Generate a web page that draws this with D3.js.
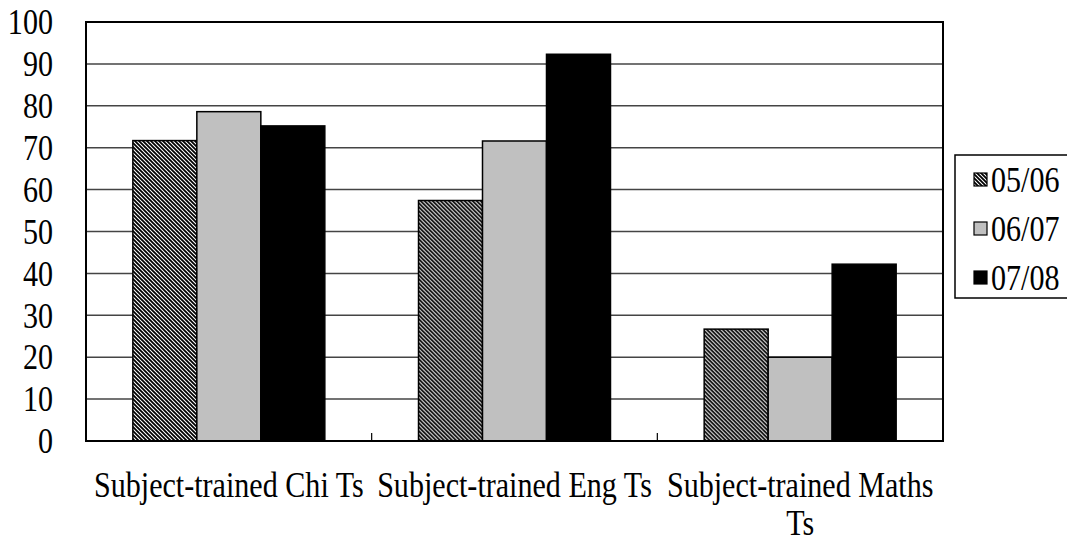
<!DOCTYPE html>
<html>
<head>
<meta charset="utf-8">
<script src="https://cdn.jsdelivr.net/npm/d3@7/dist/d3.min.js"></script>
<style>
  html, body { margin: 0; padding: 0; background: #fff; }
  svg { display: block; }
</style>
</head>
<body>
<svg id="chart" width="1067" height="545"></svg>
<script>
// ---- data ----
const categories = ["Subject-trained Chi Ts", "Subject-trained Eng Ts", "Subject-trained Maths Ts"];
const seriesNames = ["05/06", "06/07", "07/08"];
const values0506 = [71.7, 57.4, 26.7];
const values0607 = [78.6, 71.6, 20.0];
const values0708 = [75.2, 92.3, 42.2];
const yTicks = [0, 10, 20, 30, 40, 50, 60, 70, 80, 90, 100];

const seriesValues = [values0506, values0607, values0708];
const fills = ["url(#hatch)", "#c0c0c0", "#000000"];

const FONT = '"Liberation Serif", "Times New Roman", serif';
const FS = 35;
const cv = document.createElement("canvas").getContext("2d");
cv.font = `${FS}px "Liberation Serif"`;
const SX = 0.86;

const svg = d3.select("#chart");

const plot = { left: 86, right: 943, top: 22, bottom: 441 };

const defs = svg.append("defs");
const pat = defs.append("pattern")
  .attr("id", "hatch").attr("patternUnits", "userSpaceOnUse")
  .attr("width", 4).attr("height", 4);
pat.append("rect").attr("width", 4).attr("height", 4).attr("fill", "#fff");
pat.append("path")
  .attr("d", "M-1,-1 L5,5 M-1,3 L1,5 M3,-1 L5,1")
  .attr("stroke", "#000").attr("stroke-width", 1.8);

const x0 = d3.scaleBand().domain(categories).range([plot.left, plot.right]).paddingInner(0).paddingOuter(0);
const x1 = d3.scaleBand().domain(seriesNames).range([0, x0.bandwidth()]).paddingInner(0).paddingOuter(0.732);
const y = d3.scaleLinear().domain([0, 100]).range([plot.bottom, plot.top]);

// gridlines
svg.append("g").selectAll("line").data(yTicks.filter(d => d > 0 && d < 100)).join("line")
  .attr("x1", plot.left).attr("x2", plot.right)
  .attr("y1", d => y(d)).attr("y2", d => y(d))
  .attr("stroke", "#444").attr("stroke-width", 1.5);

// bars
categories.forEach((cat, ci) => {
  const g = svg.append("g").attr("transform", `translate(${x0(cat)},0)`);
  seriesNames.forEach((s, si) => {
    const v = seriesValues[si][ci];
    g.append("rect")
      .attr("x", x1(s)).attr("width", x1.bandwidth())
      .attr("y", y(v)).attr("height", y(0) - y(v))
      .attr("fill", fills[si])
      .attr("stroke", "#000").attr("stroke-width", 1.5);
  });
});

// frame
svg.append("rect")
  .attr("x", plot.left).attr("y", plot.top)
  .attr("width", plot.right - plot.left).attr("height", plot.bottom - plot.top)
  .attr("fill", "none").attr("stroke", "#000").attr("stroke-width", 2);

// category boundary ticks (inside, from bottom)
svg.append("g").selectAll("line").data(categories.slice(1)).join("line")
  .attr("x1", d => x0(d)).attr("x2", d => x0(d))
  .attr("y1", plot.bottom).attr("y2", plot.bottom - 8)
  .attr("stroke", "#000").attr("stroke-width", 1.2);

// y labels
svg.append("g").selectAll("text").data(yTicks).join("text")
  .attr("transform", d => `translate(53,${y(d)}) scale(${SX},1)`)
  .attr("dy", "0.35em")
  .attr("text-anchor", "end")
  .attr("font-family", FONT)
  .attr("font-size", FS)
  .attr("fill", "#000")
  .text(d => d);

// category labels with wrapping
categories.forEach(cat => {
  const cx = x0(cat) + x0.bandwidth() / 2;
  const words = cat.split(" ");
  const lines = [];
  let cur = [];
  words.forEach(w => {
    const trial = cur.concat([w]).join(" ");
    if (cv.measureText(trial).width * SX > x0.bandwidth() && cur.length) {
      lines.push(cur.join(" "));
      cur = [w];
    } else cur.push(w);
  });
  lines.push(cur.join(" "));
  lines.forEach((ln, i) => {
    svg.append("text")
      .attr("transform", `translate(${cx},${plot.bottom + 56 + i * 38}) scale(${SX},1)`)
      .attr("text-anchor", "middle")
      .attr("font-family", FONT)
      .attr("font-size", FS)
      .attr("fill", "#000")
      .text(ln);
  });
});

// legend
const lg = svg.append("g");
lg.append("rect").attr("x", 955).attr("y", 155).attr("width", 120).attr("height", 143)
  .attr("fill", "#fff").attr("stroke", "#000").attr("stroke-width", 1.5);
seriesNames.forEach((s, i) => {
  const base = 192 + i * 49;
  lg.append("rect").attr("x", 974).attr("y", base - 19).attr("width", 13).attr("height", 13)
    .attr("fill", fills[i]).attr("stroke", "#000").attr("stroke-width", 1.2);
  lg.append("text")
    .attr("transform", `translate(991,${base}) scale(${SX},1)`)
    .attr("font-family", FONT)
    .attr("font-size", FS)
    .attr("fill", "#000")
    .text(s);
});
</script>
</body>
</html>
